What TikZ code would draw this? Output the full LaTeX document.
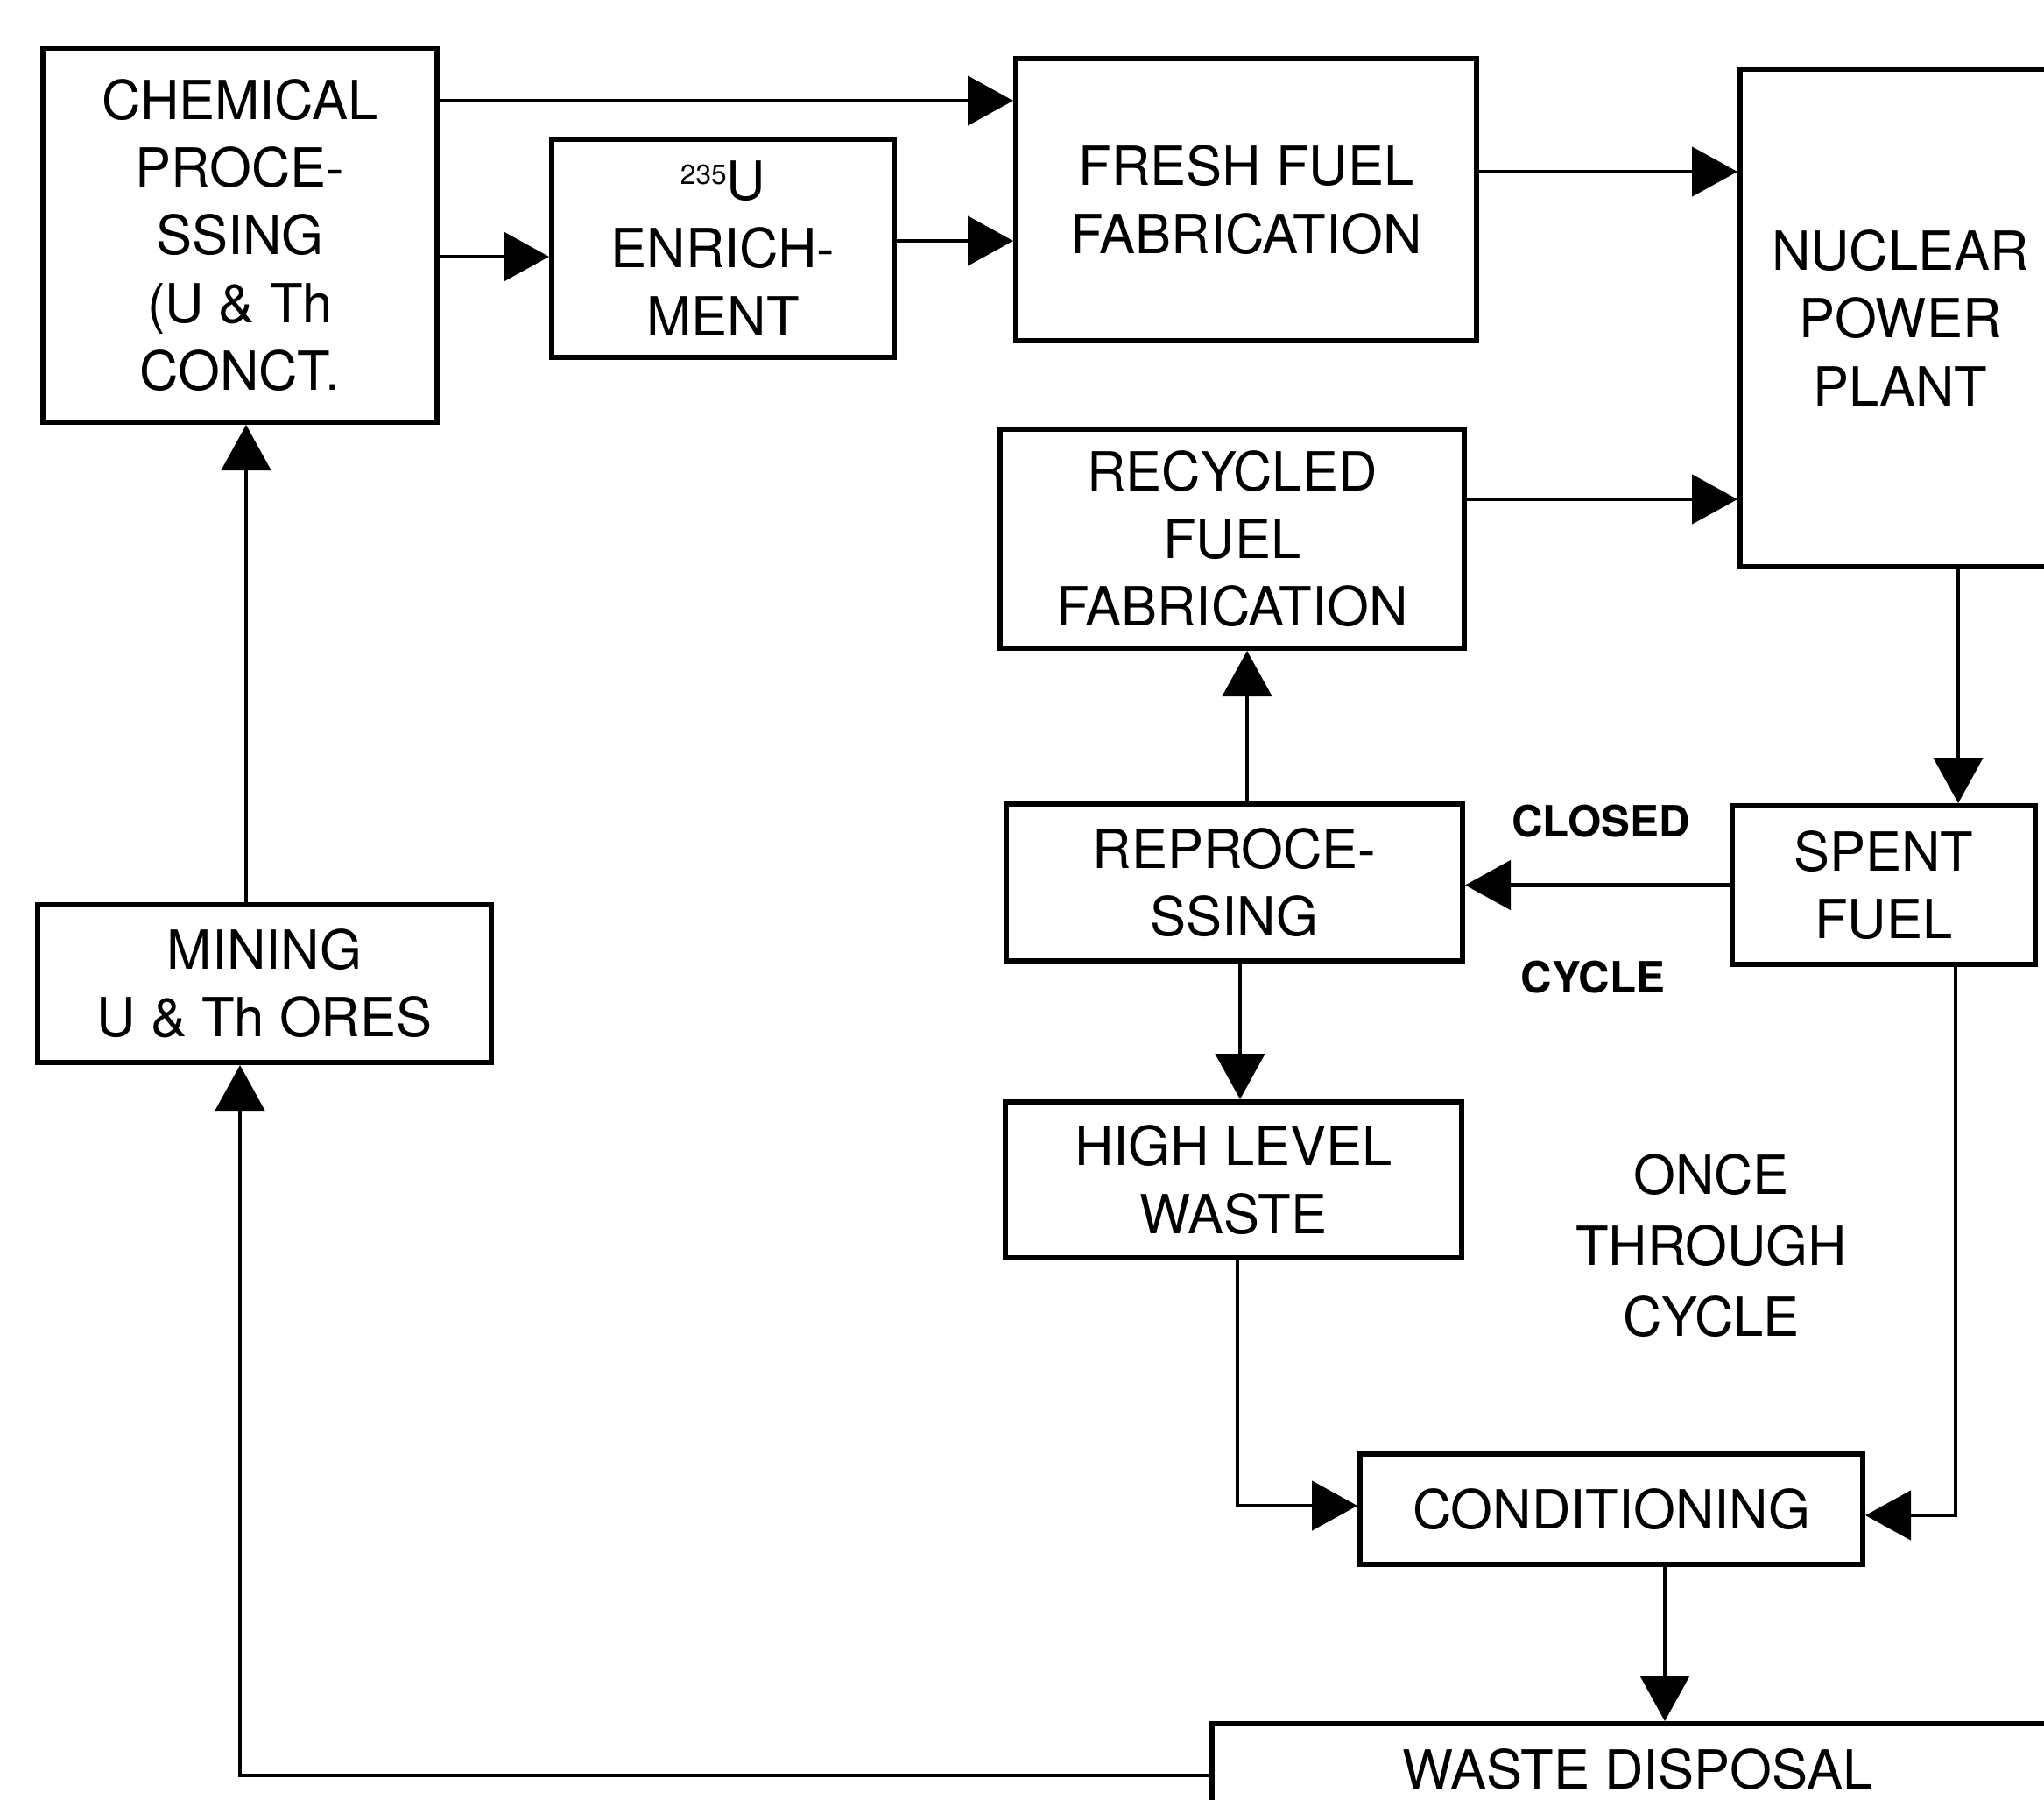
\documentclass[tikz,border=0pt]{standalone}
\usepackage{fontspec}
\setmainfont{TeX Gyre Heros}
\usetikzlibrary{arrows.meta,positioning,calc}
\tikzset{
  stage/.style={rectangle,draw=black,line width=1.7pt,align=center,
    font=\fontsize{17.5}{22}\selectfont,inner sep=2pt},
  arrow/.style={-{Triangle[length=0.52cm,width=0.56cm]},line width=1.4pt},
  cyclelabel/.style={font=\fontsize{14}{17}\selectfont\bfseries},
  cyclenote/.style={align=center,font=\fontsize{17.5}{23}\selectfont}
}

\begin{document}
\begin{tikzpicture}
  \useasboundingbox (0,0) rectangle (23.34,-20.54);
  % front end of the cycle
  \node[stage,minimum width=4.50cm,minimum height=4.27cm] (chem) at (2.74,-2.685)
    {CHEMICAL\\PROCE-\\SSING\\(U \& Th\\CONCT.};
  \node[stage,minimum width=3.91cm,minimum height=2.49cm] (enrich) at (8.255,-2.835)
    {{\fontsize{9}{9}\selectfont\raisebox{1.1ex}{235}}U\\ENRICH-\\MENT};
  \node[stage,minimum width=5.26cm,minimum height=3.22cm] (fresh) at (14.23,-2.28)
    {FRESH FUEL\\FABRICATION};
  \node[stage,minimum width=3.66cm,minimum height=5.68cm] (npp) at (21.70,-3.63)
    {NUCLEAR\\POWER\\PLANT};
  \node[stage,minimum width=5.30cm,minimum height=2.50cm] (recyc) at (14.07,-6.15)
    {RECYCLED\\FUEL\\FABRICATION};
  \node[stage,minimum width=5.18cm,minimum height=1.80cm] (mining) at (3.02,-11.23)
    {MINING\\U \& Th ORES};
  % back end of the cycle
  \node[stage,minimum width=5.21cm,minimum height=1.79cm] (repro) at (14.095,-10.075)
    {REPROCE-\\SSING};
  \node[stage,minimum width=3.46cm,minimum height=1.81cm] (spent) at (21.51,-10.105)
    {SPENT\\FUEL};
  \node[stage,minimum width=5.21cm,minimum height=1.78cm] (hlw) at (14.085,-13.47)
    {HIGH LEVEL\\WASTE};
  \node[stage,minimum width=5.74cm,minimum height=1.26cm] (cond) at (18.40,-17.23)
    {CONDITIONING};
  \node[stage,minimum width=9.72cm,minimum height=1.04cm] (wd) at (18.70,-20.20)
    {WASTE DISPOSAL};
  % cycle names
  \node[cyclelabel] (closed) at (18.28,-9.38) {CLOSED};
  \node[cyclelabel] (cycle) at (18.19,-11.16) {CYCLE};
  \node[cyclenote] (once) at (19.54,-14.22) {ONCE\\THROUGH\\CYCLE};
  % connectors
  \foreach \a/\b/\y in {chem/fresh/1.15,chem/enrich/2.93,enrich/fresh/2.75,
      fresh/npp/1.96,recyc/npp/5.70}
    \draw[arrow] (\a.east |- 0,-\y) -- (\b.west |- 0,-\y);
  \foreach \a/\b/\x in {npp/spent/22.36,repro/hlw/14.16,cond/wd/19.01}
    \draw[arrow] (\a.south -| \x,0) -- (\b.north -| \x,0);
  \foreach \a/\b/\x in {repro/recyc/14.24,mining/chem/2.81}
    \draw[arrow] (\a.north -| \x,0) -- (\b.south -| \x,0);
  \draw[arrow] (spent.west) -- (repro.east |- spent.west);
  \draw[arrow] (hlw.south -| 14.13,0) |- (cond.west |- 0,-17.19);
  \draw[arrow] (spent.south -| 22.33,0) |- (cond.east |- 0,-17.30);
  \draw[arrow] (wd.west |- 0,-20.27) -| (mining.south -| 2.74,0);
\end{tikzpicture}
\end{document}
